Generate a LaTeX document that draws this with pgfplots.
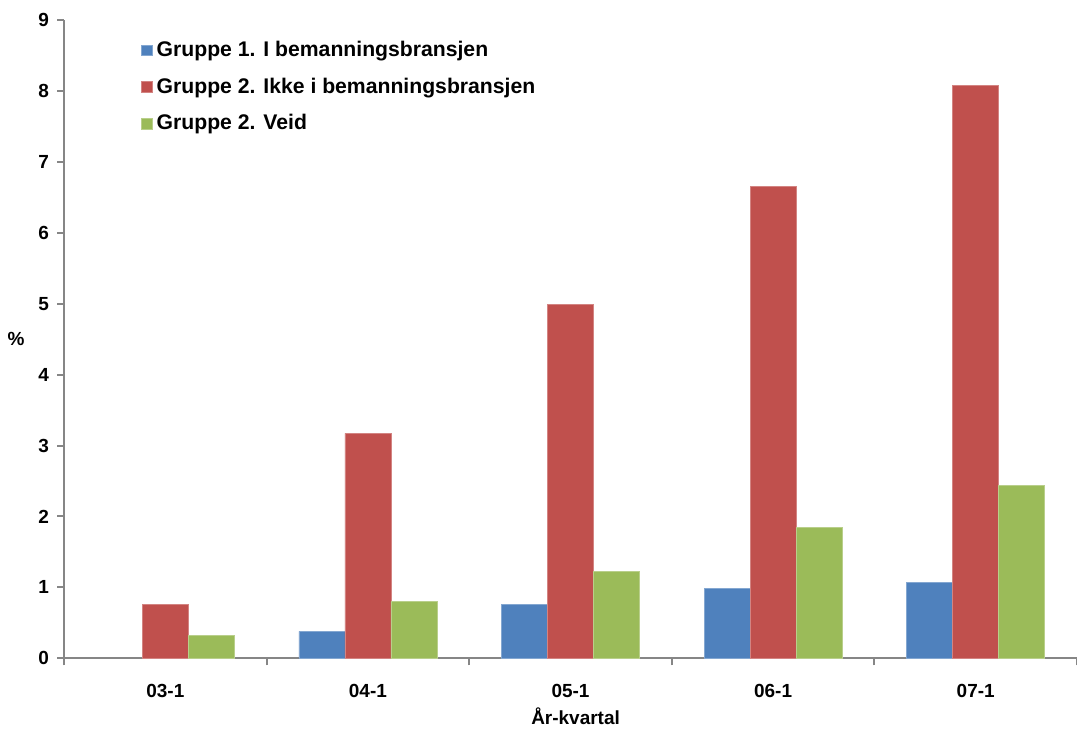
\documentclass[border=0pt]{standalone}
\usepackage{pgfplots}
\pgfplotsset{compat=1.18}
\usepackage{fontspec}
\setmainfont{Liberation Sans}
\definecolor{cblue}{HTML}{4F81BD}
\definecolor{cred}{HTML}{C0504D}
\definecolor{cgreen}{HTML}{9BBB59}
\definecolor{axgrey}{HTML}{868686}
\begin{document}
\begin{tikzpicture}
\begin{axis}[
  scale only axis,
  width=507pt, height=319.5pt,
  xmin=-0.5, xmax=4.5, ymin=0, ymax=9,
  ybar=0pt, bar width=23pt,
  axis x line*=bottom, axis y line*=left,
  axis line style={axgrey, line width=1pt},
  xtick={0,1,2,3,4},
  xticklabels={03-1,04-1,05-1,06-1,07-1},
  major x tick style={draw=none},
  minor xtick={-0.5,0.5,1.5,2.5,3.5,4.5},
  minor x tick style={axgrey, line width=1pt},
  minor tick length=3.5pt,
  ytick={0,1,...,9},
  y tick style={axgrey, line width=1pt},
  major tick length=3.5pt,
  tick align=outside,
  x tick label style={font=\fontsize{9.5}{11}\selectfont\bfseries, yshift=-6pt},
  y tick label style={font=\fontsize{9.5}{11}\selectfont\bfseries, xshift=-0.5pt},
  /pgf/number format/assume math mode=true,
  xlabel={År-kvartal},
  xlabel style={font=\fontsize{9.5}{11}\selectfont\bfseries, at={(rel axis cs:0.505,0)}, anchor=north, yshift=-21pt},
  ylabel={\%},
  ylabel style={font=\fontsize{9.5}{11}\selectfont\bfseries, rotate=-90, at={(rel axis cs:0,0.5)}, anchor=center, xshift=-24pt, yshift=0pt},
  legend style={at={(rel axis cs:0.07,0.98)}, anchor=north west, draw=none, fill=none,
    font=\fontsize{10.6}{12}\selectfont\bfseries, row sep=5.2pt,
    /tikz/every even column/.append style={column sep=0pt}},
  legend cell align=left,
  legend image code/.code={\fill[#1] (0pt,-2.7pt) rectangle (5.4pt,2.7pt);},
]
\addplot[fill=cblue, draw=cblue!70!white, line width=0.3pt] coordinates {(1,0.38) (2,0.76) (3,0.99) (4,1.07)};
\addplot[fill=cred, draw=cred!70!white, line width=0.3pt] coordinates {(0,0.76) (1,3.17) (2,4.99) (3,6.65) (4,8.08)};
\addplot[fill=cgreen, draw=cgreen!70!white, line width=0.3pt] coordinates {(0,0.32) (1,0.80) (2,1.23) (3,1.85) (4,2.44)};
\legend{Gruppe 1. I bemanningsbransjen, Gruppe 2. Ikke i bemanningsbransjen, Gruppe 2. Veid}
\coordinate (bl) at (rel axis cs:-0.0632,-0.1095);
\coordinate (tr) at (rel axis cs:1.0,1.0313);
\end{axis}
\pgfresetboundingbox
\path[use as bounding box] (bl) rectangle (tr);
\end{tikzpicture}
\end{document}
